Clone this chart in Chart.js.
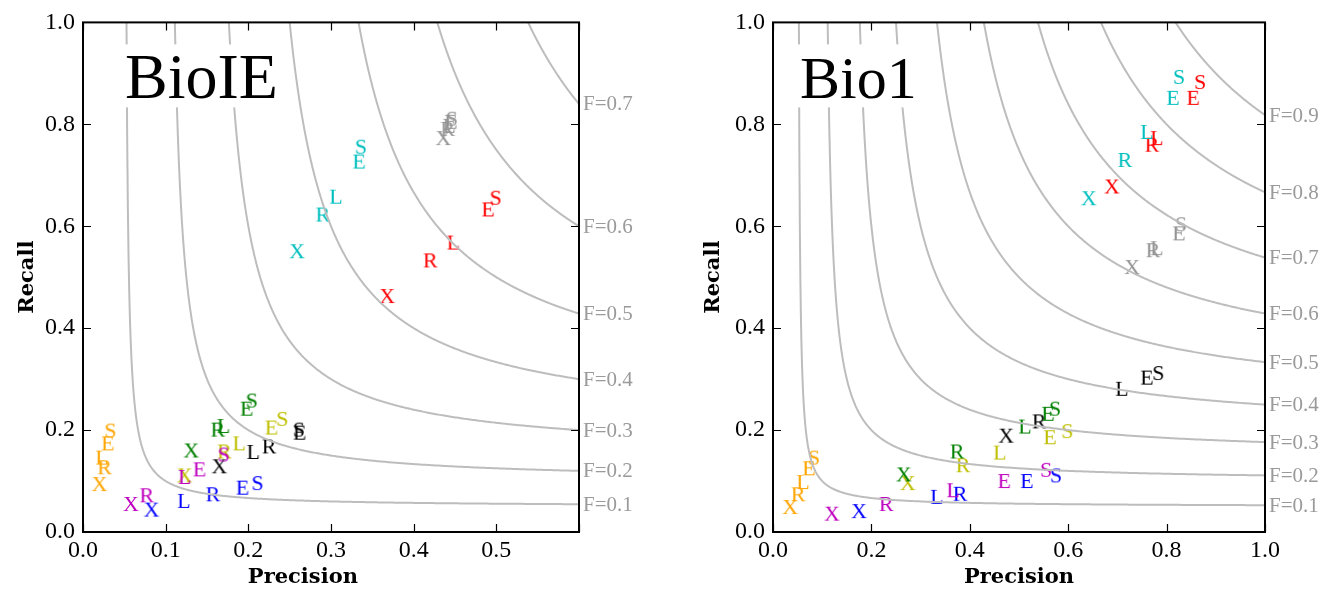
<!DOCTYPE html>
<html><head><meta charset="utf-8">
<script src="https://cdn.jsdelivr.net/npm/chart.js@4"></script>
<style>
body{margin:0;background:#fff;width:1333px;height:590px;overflow:hidden;position:relative}
.p{position:absolute;top:0;height:590px}
</style></head><body>
<div class="p" style="left:0;width:666px"><canvas id="c1" width="666" height="590"></canvas></div>
<div class="p" style="left:666px;width:667px"><canvas id="c2" width="667" height="590"></canvas></div>
<script>
// ---- data ----
const letters = ['X', 'R', 'L', 'E', 'S'];
const seriesColors = ['#ffa500', '#bf00bf', '#0000ff', '#008000', '#bfbf00', '#000000', '#00bfbf', '#939393', '#ff0000'];

// BioIE panel: rows follow seriesColors, columns follow letters
const bioiePrecision = [
  [0.020, 0.026, 0.023, 0.030, 0.033],
  [0.058, 0.077, 0.123, 0.141, 0.170],
  [0.083, 0.157, 0.122, 0.193, 0.211],
  [0.131, 0.163, 0.170, 0.198, 0.204],
  [0.123, 0.171, 0.189, 0.228, 0.241],
  [0.165, 0.225, 0.206, 0.262, 0.261],
  [0.259, 0.290, 0.306, 0.334, 0.336],
  [0.436, 0.441, 0.443, 0.445, 0.446],
  [0.368, 0.420, 0.448, 0.490, 0.499]
];
const bioieRecall = [
  [0.094, 0.127, 0.146, 0.174, 0.199],
  [0.055, 0.072, 0.108, 0.123, 0.152],
  [0.044, 0.074, 0.061, 0.087, 0.096],
  [0.160, 0.201, 0.208, 0.242, 0.258],
  [0.111, 0.158, 0.174, 0.205, 0.222],
  [0.129, 0.168, 0.157, 0.195, 0.201],
  [0.551, 0.623, 0.658, 0.727, 0.756],
  [0.773, 0.791, 0.797, 0.805, 0.811],
  [0.463, 0.533, 0.568, 0.633, 0.656]
];
// Bio1 panel
const bio1Precision = [
  [0.035, 0.051, 0.061, 0.073, 0.083],
  [0.120, 0.230, 0.366, 0.470, 0.555],
  [0.175, 0.380, 0.333, 0.516, 0.575],
  [0.266, 0.374, 0.512, 0.559, 0.573],
  [0.274, 0.386, 0.461, 0.563, 0.598],
  [0.474, 0.541, 0.709, 0.760, 0.783],
  [0.642, 0.715, 0.760, 0.813, 0.825],
  [0.730, 0.772, 0.780, 0.825, 0.829],
  [0.689, 0.770, 0.780, 0.854, 0.868]
];
const bio1Recall = [
  [0.049, 0.074, 0.098, 0.125, 0.146],
  [0.036, 0.055, 0.082, 0.100, 0.122],
  [0.041, 0.075, 0.069, 0.100, 0.111],
  [0.113, 0.158, 0.207, 0.232, 0.242],
  [0.096, 0.131, 0.156, 0.186, 0.198],
  [0.189, 0.217, 0.281, 0.303, 0.312],
  [0.655, 0.730, 0.785, 0.852, 0.893],
  [0.520, 0.553, 0.557, 0.586, 0.604],
  [0.678, 0.760, 0.773, 0.852, 0.883]
];
const bioieFLevels = [0.1, 0.2, 0.3, 0.4, 0.5, 0.6, 0.7];
const bio1FLevels = [0.1, 0.2, 0.3, 0.4, 0.5, 0.6, 0.7, 0.8, 0.9];
const yTickLabels = ['0.0', '0.2', '0.4', '0.6', '0.8', '1.0'];

// ---- helpers ----
const SERIF = '"Liberation Serif", "DejaVu Serif", serif';
function letterCanvas(ch, color) {
  const c = document.createElement('canvas');
  c.width = 30; c.height = 30;
  const g = c.getContext('2d');
  g.font = '22px ' + SERIF;
  g.fillStyle = color;
  g.textAlign = 'center';
  g.textBaseline = 'alphabetic';
  g.fillText(ch, 15, 22);
  return c;
}
function fCurve(F, xmax) {
  // iso-F line: R = F*P / (2P - F)
  const pts = [];
  const p0 = F / (2 - F);
  const n = 160;
  for (let i = 0; i <= n; i++) {
    const t = i / n;
    const p = p0 * Math.pow(xmax / p0, t);
    pts.push({ x: p, y: F * p / (2 * p - F) });
  }
  return pts;
}

const decoPlugin = {
  id: 'deco',
  afterDatasetsDraw(chart) {
    const o = chart.options.plugins.deco;
    const { ctx, chartArea: a, scales: { x, y } } = chart;
    ctx.save();
    // panel title with white box
    ctx.font = o.titleSize + 'px ' + SERIF;
    const w = ctx.measureText(o.title).width;
    const tx = a.left + o.titleDx, ty = a.top + o.titleDy;
    ctx.fillStyle = '#fff';
    ctx.fillRect(tx - 9, ty - 54, w + 18, 63);
    ctx.fillStyle = '#000';
    ctx.textAlign = 'left';
    ctx.textBaseline = 'alphabetic';
    ctx.fillText(o.title, tx, ty);
    // inward ticks
    ctx.strokeStyle = '#000';
    ctx.lineWidth = 1.2;
    ctx.beginPath();
    x.ticks.forEach(t => {
      const px = Math.round(x.getPixelForValue(t.value)) + 0.5;
      ctx.moveTo(px, a.bottom); ctx.lineTo(px, a.bottom - 8);
      ctx.moveTo(px, a.top); ctx.lineTo(px, a.top + 8);
    });
    y.ticks.forEach(t => {
      const py = Math.round(y.getPixelForValue(t.value)) + 0.5;
      ctx.moveTo(a.left, py); ctx.lineTo(a.left + 8, py);
      ctx.moveTo(a.right, py); ctx.lineTo(a.right - 8, py);
    });
    ctx.stroke();
    // frame
    ctx.lineWidth = 2;
    ctx.strokeRect(a.left, a.top, a.right - a.left, a.bottom - a.top);
    // F labels at right edge
    ctx.font = '21px ' + SERIF;
    ctx.fillStyle = '#9a9a9a';
    ctx.textBaseline = 'middle';
    const xmax = x.max;
    o.fLevels.forEach(F => {
      const r = F * xmax / (2 * xmax - F);
      ctx.fillText('F=' + F.toFixed(1), a.right + 4, y.getPixelForValue(r) + 1);
    });
    // x axis title
    ctx.font = 'bold 21px "DejaVu Serif", serif';
    ctx.fillStyle = '#000';
    ctx.textAlign = 'center';
    ctx.fillText('Precision', x.getPixelForValue(o.xTitleAt), 578);
    ctx.restore();
  }
};

function buildPanel(canvasId, P, R, fLevels, xmax, xstep, yAxisWidth, rightPad, title, titleSize, titleDx, titleDy, xTitleAt, yTitlePad) {
  const datasets = [];
  fLevels.forEach(F => {
    datasets.push({
      type: 'line', data: fCurve(F, xmax), borderColor: '#bdbdbd', borderWidth: 2,
      pointRadius: 0, fill: false, tension: 0.001, borderCapStyle: 'round', borderJoinStyle: 'round'
    });
  });
  seriesColors.forEach((col, si) => {
    datasets.push({
      type: 'scatter',
      data: letters.map((l, i) => ({ x: P[si][i], y: R[si][i] })),
      pointStyle: letters.map(l => letterCanvas(l, col)),
      pointRadius: 8, clip: false
    });
  });
  return new Chart(document.getElementById(canvasId), {
    type: 'scatter',
    data: { datasets },
    plugins: [decoPlugin],
    options: {
      responsive: false, animation: false, events: [],
      layout: { padding: { top: 21, right: rightPad, left: 0, bottom: 0 } },
      plugins: {
        legend: { display: false }, tooltip: { enabled: false },
        deco: { title, titleSize, titleDx, titleDy, fLevels, xTitleAt }
      },
      scales: {
        x: {
          type: 'linear', min: 0, max: xmax,
          grid: { display: false, drawTicks: false }, border: { display: false },
          ticks: {
            stepSize: xstep, color: '#000', padding: 4,
            font: { family: SERIF, size: 24 },
            callback: v => (v > xmax - 1e-6 && xmax < 0.99) ? '' : v.toFixed(1)
          },
          afterFit: s => { s.height = 58; }
        },
        y: {
          type: 'linear', min: 0, max: 1,
          grid: { display: false, drawTicks: false }, border: { display: false },
          ticks: {
            stepSize: 0.2, color: '#000', padding: 8,
            font: { family: SERIF, size: 24 },
            callback: (v, i) => yTickLabels[i]
          },
          title: {
            display: true, text: 'Recall', color: '#000',
            font: { family: '"DejaVu Serif", serif', size: 21, weight: 'bold' },
            padding: { top: yTitlePad, bottom: 0 }
          },
          afterFit: s => { s.width = yAxisWidth; }
        }
      }
    }
  });
}

buildPanel('c1', bioiePrecision, bioieRecall, bioieFLevels, 0.6, 0.1, 83, 87, 'BioIE', 64, 42, 76, 0.266, 15);
buildPanel('c2', bio1Precision, bio1Recall, bio1FLevels, 1.0, 0.2, 107, 68, 'Bio1', 60, 27, 76, 0.5, 35);
</script>
</body></html>
